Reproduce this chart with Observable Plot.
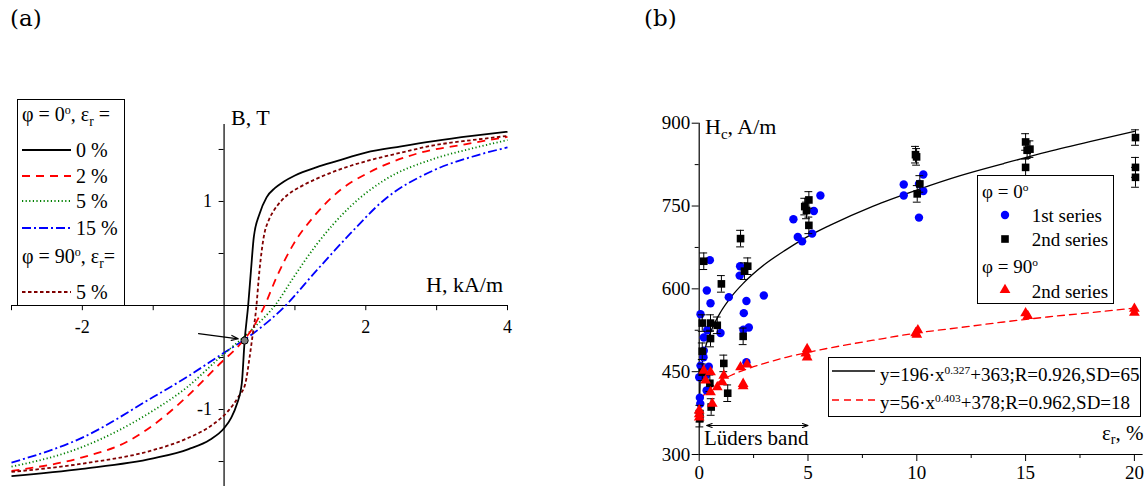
<!DOCTYPE html>
<html><head><meta charset="utf-8">
<script src="https://cdn.jsdelivr.net/npm/d3@7"></script>
<script src="https://cdn.jsdelivr.net/npm/@observablehq/plot@0.6"></script>
<style>
body{margin:0;background:#fff;}
#fig{position:relative;width:1144px;height:486px;font-family:"Liberation Serif","Times New Roman",serif;color:#000;overflow:hidden;background:#fff}
#fig > svg{position:absolute;top:0}
.lab{position:absolute;white-space:nowrap;line-height:1;transform:translateY(-50%)}
.lab sub{font-size:0.68em;vertical-align:-0.35em;line-height:0}
.lab sup{font-size:0.6em;vertical-align:0.55em;line-height:0}
.box{position:absolute;border:1px solid #000;box-sizing:border-box;background:#fff}
.sample{position:absolute}
</style></head>
<body>
<div id="fig"></div>
<script>
// ---------- Panel (a): B(H) curves ----------
const H_0 = [-3, -2, -1, -0.5, -0.2, 0, 0.1, 0.18, 0.25, 0.29, 0.34, 0.38, 0.42, 0.5, 0.6, 0.72, 0.84, 1.0, 1.31, 1.6, 2.0, 2.5, 2.96, 3.5, 4.0];
const B_0 = [-1.64, -1.57, -1.47, -1.38, -1.29, -1.18, -1.08, -0.95, -0.75, -0.34, 0, 0.34, 0.66, 0.88, 1.04, 1.13, 1.19, 1.25, 1.33, 1.39, 1.47, 1.53, 1.58, 1.63, 1.67];
const H_2 = [-3, -2, -1.37, -1, -0.53, -0.06, 0.23, 0.41, 0.56, 0.74, 0.98, 1.26, 1.64, 2.02, 2.72, 3.4, 4.0];
const B_2 = [-1.59, -1.46, -1.31, -1.15, -0.88, -0.56, -0.37, -0.21, -0.02, 0.27, 0.59, 0.85, 1.11, 1.27, 1.46, 1.55, 1.62];
const H_5 = [-3, -2, -1, -0.53, -0.06, 0.41, 0.74, 0.98, 1.31, 1.78, 2.25, 2.96, 3.5, 4.0];
const B_5 = [-1.55, -1.36, -1.01, -0.79, -0.50, -0.22, 0.02, 0.27, 0.59, 0.95, 1.20, 1.41, 1.51, 1.59];
const H_15 = [-3, -2, -1, -0.53, -0.06, 0.41, 0.84, 1.31, 1.78, 2.25, 2.96, 3.5, 4.0];
const B_15 = [-1.51, -1.27, -0.88, -0.69, -0.48, -0.27, -0.02, 0.34, 0.69, 1.01, 1.30, 1.43, 1.52];
const H_90_5 = [-3, -2, -1, -0.53, -0.15, 0.05, 0.2, 0.30, 0.36, 0.40, 0.45, 0.50, 0.56, 0.63, 0.70, 0.80, 0.89, 1.1, 1.31, 1.6, 2.02, 2.5, 2.96, 3.5, 4.0];
const B_90_5 = [-1.60, -1.52, -1.39, -1.28, -1.14, -1.02, -0.88, -0.75, -0.5, -0.3, -0.05, 0.34, 0.66, 0.82, 0.91, 1.0, 1.06, 1.15, 1.22, 1.30, 1.39, 1.47, 1.54, 1.59, 1.63];
const crossH = [0.29], crossB = [-0.337];
const aXTicks = [-3, -2, -1, 1, 2, 3, 4];
const aXLabels = [-2, 2, 4];
const aYTicks = [-1.5, -1, -0.5, 0.5, 1, 1.5];
const aYLabels = [-1, 1];

// ---------- Panel (b): Hc(eps_r) ----------
const blueEps = [0.05, 0.03, 0.0, 0.3, 0.06, 0.34, 0.2, 0.21, 0.44, 0.06, 0.21, 0.37, 0.35, 0.52, 0.49, 0.98, 1.36, 1.88, 1.86, 2.05, 2.17, 2.03, 2.28, 2.17, 2.97, 4.33, 4.53, 4.73, 5.19, 5.27, 5.57, 9.4, 9.4, 10.1, 10.3, 10.3, 10.1];
const blueHc  = [392, 403, 440, 443, 461, 416, 476, 488, 459, 554, 512, 525, 597, 574, 652, 520, 585, 641, 624, 556, 578, 526, 530, 467, 588, 726, 694, 686, 700, 741, 769, 789, 769, 790, 807, 777, 729];
const blackEps = [0.21, 0.14, 0.52, 0.83, 0.52, 0.14, 0.14, 0.49, 0.55, 0.03, 0.03, 1.02, 1.13, 1.31, 1.90, 2.08, 2.23, 2.02, 4.85, 4.93, 5.04, 5.04, 9.94, 9.99, 10.14, 10.02, 15.0, 15.07, 15.2, 15.0, 20.05, 20.05, 20.05];
const blackHc  = [650, 538, 538, 534, 510, 487, 449, 429, 386, 365, 374, 609, 465, 411, 691, 632, 641, 514, 749, 742, 761, 715, 843, 839, 790, 772, 866, 851, 853, 820, 874, 820, 802];
const blackErr = [15, 15, 15, 15, 15, 15, 15, 15, 15, 15, 15, 15, 15, 15, 15, 15, 15, 15, 15, 15, 15, 15, 15, 15, 15, 15, 15, 15, 15, 15, 14, 18, 18];
const redEps = [0.0, 0.0, 0.0, 0.21, 0.52, 0.29, 0.52, 0.6, 0.83, 1.06, 1.13, 1.90, 2.2, 2.02, 2.02, 4.96, 4.96, 4.9, 10.05, 10.0, 9.95, 15.0, 15.1, 20.0, 20.0];
const redHc  = [380, 367, 373, 452, 449, 434, 413, 392, 422, 431, 443, 458, 463, 428, 424, 491, 476, 483, 525, 517, 520, 556, 551, 564, 557];
const fitEps   = [0, 0.05, 0.1, 0.25, 0.5, 1, 1.5, 2, 3, 4, 5, 6, 8, 10, 12, 14, 16, 18, 20];
const fitBlack = [363, 437, 455, 488, 519, 559, 587, 609, 644, 671, 695, 715, 750, 779, 805, 827, 848, 867, 885];
const fitRed   = [378, 395, 400, 410, 420, 434, 444, 452, 465, 476, 485, 493, 507, 520, 530, 540, 549, 557, 565];
const bXMajor = [0, 5, 10, 15, 20];
const bXMinor = [2.5, 7.5, 12.5, 17.5];
const bYMajor = [300, 450, 600, 750, 900];
const bYMinor = [375, 525, 675, 825];

// ---------- build ----------
const fig = document.getElementById("fig");
const toPts = (xs, ys) => xs.map((x, i) => ({x, y: ys[i]}));

const curveStyles = [
  {H: H_15, B: B_15, stroke: "#0000ff", dash: "9,3,2,3", cap: "butt"},
  {H: H_5, B: B_5, stroke: "#008000", dash: "1.2,2.4", cap: "butt"},
  {H: H_2, B: B_2, stroke: "#ff0000", dash: "8,6", cap: "butt"},
  {H: H_90_5, B: B_90_5, stroke: "#800000", dash: "3.5,2.5", cap: "butt"},
  {H: H_0, B: B_0, stroke: "#000000", dash: null, cap: "butt"}
];

const pa = Plot.plot({
  width: 580, height: 486,
  marginLeft: 11, marginRight: 73, marginTop: 124, marginBottom: 0,
  x: {domain: [-3, 4], axis: null},
  y: {domain: [-1.74, 1.74], axis: null},
  style: {fontFamily: "Liberation Serif", fontSize: "18px", background: "transparent", overflow: "visible"},
  marks: [
    Plot.ruleY([0], {x1: -3, x2: 4, stroke: "#000", strokeWidth: 1.2}),
    Plot.ruleX([0], {y1: -1.74, y2: 1.74, stroke: "#000", strokeWidth: 1.2}),
    Plot.ruleX(aXTicks, {x: d => d, y1: 0, y2: -0.05, stroke: "#000", strokeWidth: 1}),
    Plot.ruleY(aYTicks, {y: d => d, x1: -0.07, x2: 0, stroke: "#000", strokeWidth: 1}),
    Plot.text(aXLabels, {x: d => d, y: 0, dy: 22, text: d => String(d), fontSize: 18}),
    Plot.text(aYLabels, {x: 0, y: d => d, dx: -12, textAnchor: "end", text: d => String(d), fontSize: 18}),
    ...curveStyles.map(c => Plot.line(toPts(c.H, c.B), {
      x: "x", y: "y", stroke: c.stroke, strokeWidth: 1.8,
      strokeDasharray: c.dash || undefined, strokeLinecap: c.cap, curve: "monotone-x"
    })),
    Plot.arrow([0], {x1: -0.36, y1: -0.27, x2: 0.2, y2: -0.32, stroke: "#000", strokeWidth: 1.2, headLength: 9, headAngle: 40}),
    Plot.dot(toPts(crossH, crossB), {x: "x", y: "y", r: 3.6, fill: "#808080", stroke: "#000", strokeWidth: 1})
  ]
});
pa.style.left = "0px";
fig.appendChild(pa);

const blueTbl = toPts(blueEps, blueHc);
const blackTbl = blackEps.map((x, i) => ({x, y: blackHc[i], e: blackErr[i]}));
const redTbl = toPts(redEps, redHc);
const fitTbl = fitEps.map((x, i) => ({x, black: fitBlack[i], red: fitRed[i]}));
const caps = blackTbl.flatMap(d => [{x: d.x, y: d.y - d.e}, {x: d.x, y: d.y + d.e}]);

const pb = Plot.plot({
  width: 564, height: 486,
  marginLeft: 118.7, marginRight: 1.4, marginTop: 122.7, marginBottom: 32,
  x: {domain: [0, 20.4], label: null},
  y: {domain: [300, 900], label: null},
  style: {fontFamily: "Liberation Serif", fontSize: "19px", background: "transparent", overflow: "visible"},
  marks: [
    Plot.ruleY([300], {x1: 0, x2: 20.4, stroke: "#000", strokeWidth: 1.2}),
    Plot.ruleX([0], {y1: 300, y2: 900, stroke: "#000", strokeWidth: 1.2}),
    Plot.axisX({ticks: bXMajor, tickSize: 7, tickPadding: 4, tickFormat: d => String(d), label: null, fontSize: 19}),
    Plot.axisX({ticks: bXMinor, tickSize: 4, tickFormat: () => "", label: null}),
    Plot.axisY({ticks: bYMajor, tickSize: 7, tickPadding: 2, tickFormat: d => String(d), label: null, fontSize: 19}),
    Plot.axisY({ticks: bYMinor, tickSize: 4, tickFormat: () => "", label: null}),
    Plot.line(fitTbl, {x: "x", y: "black", stroke: "#000", strokeWidth: 1.3, curve: "monotone-x"}),
    Plot.line(fitTbl, {x: "x", y: "red", stroke: "#ff0000", strokeWidth: 1.3, strokeDasharray: "7,5", curve: "monotone-x"}),
    Plot.dot(blueTbl, {x: "x", y: "y", r: 4.2, fill: "#0000ff"}),
    Plot.ruleX(blackTbl, {x: "x", y1: d => d.y - d.e, y2: d => d.y + d.e, stroke: "#000", strokeWidth: 1}),
    Plot.ruleY(caps, {y: "y", x1: d => d.x - 0.18, x2: d => d.x + 0.18, stroke: "#000", strokeWidth: 1}),
    Plot.dot(blackTbl, {x: "x", y: "y", symbol: "square", r: 4.3, fill: "#000"}),
    Plot.dot(redTbl, {x: "x", y: "y", symbol: "triangle", r: 4, fill: "#ff0000"}),
    Plot.arrow([{a: 2.66, b: 0.34}, {a: 2.66, b: 5.0}], {x1: "a", x2: "b", y1: 352.5, y2: 352.5, stroke: "#000", strokeWidth: 1.1, headLength: 8, headAngle: 40})
  ]
});
pb.style.left = "580px";
fig.appendChild(pb);

// ---------- HTML annotations / legends ----------
function lab(html, x, y, size, family) {
  const d = document.createElement("div");
  d.className = "lab";
  d.innerHTML = html;
  d.style.left = x + "px"; d.style.top = y + "px"; d.style.fontSize = size + "px";
  if (family) d.style.fontFamily = family;
  fig.appendChild(d);
  return d;
}
function box(x, y, w, h) {
  const d = document.createElement("div");
  d.className = "box";
  Object.assign(d.style, {left: x + "px", top: y + "px", width: w + "px", height: h + "px"});
  fig.appendChild(d);
}
function sampleLine(x, y, w, stroke, dash, sw) {
  const ns = "http://www.w3.org/2000/svg";
  const s = document.createElementNS(ns, "svg");
  s.setAttribute("width", w); s.setAttribute("height", 8);
  s.setAttribute("class", "sample");
  s.style.left = x + "px"; s.style.top = (y - 4) + "px";
  const l = document.createElementNS(ns, "line");
  l.setAttribute("x1", 0); l.setAttribute("x2", w); l.setAttribute("y1", 4); l.setAttribute("y2", 4);
  l.setAttribute("stroke", stroke); l.setAttribute("stroke-width", sw);
  if (dash) l.setAttribute("stroke-dasharray", dash);
  s.appendChild(l);
  fig.appendChild(s);
}
function sampleSymbol(x, y, kind, fill) {
  const ns = "http://www.w3.org/2000/svg";
  const s = document.createElementNS(ns, "svg");
  s.setAttribute("width", 14); s.setAttribute("height", 14);
  s.setAttribute("class", "sample");
  s.style.left = (x - 7) + "px"; s.style.top = (y - 7) + "px";
  const p = document.createElementNS(ns, "path");
  const sym = kind === "circle" ? d3.symbolCircle : kind === "square" ? d3.symbolSquare : d3.symbolTriangle;
  const r = kind === "circle" ? 4.2 : kind === "square" ? 4.3 : 4;
  p.setAttribute("d", d3.symbol(sym, Math.PI * r * r)());
  p.setAttribute("transform", "translate(7,7)");
  p.setAttribute("fill", fill);
  s.appendChild(p);
  fig.appendChild(s);
}

// panel labels
lab("(a)", 10, 18, 23, "DejaVu Serif");
lab("(b)", 644, 18, 23, "DejaVu Serif");

// axis titles
lab("B, T", 231, 118, 22);
lab("H, kA/m", 426, 285, 22);
lab("H<sub>c</sub>, A/m", 705, 127, 22);
lab("ε<sub>r</sub>, %", 1102, 433, 21);
lab("Lüders band", 704, 438, 21);

// legend (a)
box(17, 99, 108, 207);
lab("φ = 0<sup>o</sup>, ε<sub>r</sub> =", 22, 114, 20);
const legA = [
  {txt: "0 %", y: 150, stroke: "#000000", dash: null},
  {txt: "2 %", y: 176, stroke: "#ff0000", dash: "8,6"},
  {txt: "5 %", y: 201, stroke: "#008000", dash: "1.2,2.4"},
  {txt: "15 %", y: 228, stroke: "#0000ff", dash: "9,3,2,3"}
];
legA.forEach(r => { sampleLine(22, r.y, 49, r.stroke, r.dash, 1.8); lab(r.txt, 76, r.y, 20); });
lab("φ = 90<sup>o</sup>, ε<sub>r</sub>=", 22, 256, 20);
sampleLine(22, 292, 49, "#800000", "3.5,2.5", 1.8);
lab("5 %", 76, 292, 20);

// legend (b) markers
box(976.7, 175, 137.3, 128.5);
lab("φ = 0<sup>o</sup>", 982, 191, 19);
sampleSymbol(1005, 215, "circle", "#0000ff");
lab("1st series", 1031.7, 215, 19);
sampleSymbol(1005, 239, "square", "#000000");
lab("2nd series", 1031.7, 239, 19);
lab("φ = 90<sup>o</sup>", 982, 266, 19);
sampleSymbol(1005, 290, "triangle", "#ff0000");
lab("2nd series", 1031.7, 291, 19);

// legend (b) fits
box(828.3, 357.3, 312.7, 59.5);
sampleLine(832, 371, 43, "#000", null, 1.3);
lab("y=196·x<sup>0.327</sup>+363;R=0.926,SD=65", 880, 374, 19);
sampleLine(832, 400, 43, "#ff0000", "7,5", 1.3);
lab("y=56·x<sup>0.403</sup>+378;R=0.962,SD=18", 880, 402, 19);
</script>
</body></html>
